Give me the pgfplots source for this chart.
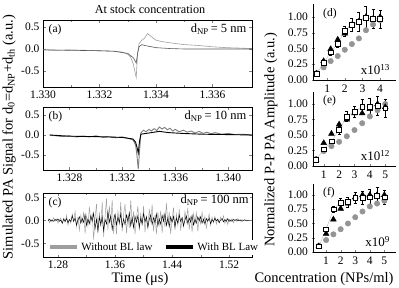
\documentclass[border=0pt]{standalone}
\usepackage{pgfplots}
\pgfplotsset{compat=1.18}
\usepackage{pgfplotstable}
\usepackage{fontspec}
\setmainfont{Liberation Serif}
\definecolor{lg}{gray}{0.62}
\definecolor{dk}{gray}{0.12}
\definecolor{cg}{gray}{0.58}

\pgfplotstableread{
x g d
1.266 0.04 -0.01
1.268 -0.05 0.03
1.270 0.02 -0.02
1.272 -0.02 0.01
1.274 0.06 -0.02
1.276 -0.01 0.02
1.278 0.03 0.00
1.280 -0.06 0.03
1.282 0.01 -0.02
1.284 0.05 0.01
1.286 -0.07 -0.06
1.288 0.05 0.03
1.290 -0.04 -0.02
1.292 0.11 0.04
1.294 -0.10 -0.05
1.296 0.02 0.02
1.298 -0.06 -0.02
1.300 0.14 0.10
1.302 -0.02 -0.02
1.304 0.20 0.05
1.306 -0.14 -0.10
1.308 0.07 0.01
1.310 -0.22 0.08
1.312 0.11 -0.06
1.314 -0.05 0.04
1.316 0.19 -0.04
1.318 -0.29 0.13
1.320 0.10 -0.11
1.322 -0.13 0.03
1.324 0.30 -0.07
1.326 -0.06 0.10
1.328 0.16 -0.01
1.330 -0.42 0.16
1.332 0.05 -0.18
1.334 0.36 0.03
1.336 -0.27 -0.23
1.338 0.18 0.07
1.340 -0.14 -0.09
1.342 0.41 0.08
1.344 -0.36 -0.22
1.346 0.09 0.02
1.348 0.48 -0.08
1.350 -0.22 0.20
1.352 0.32 -0.04
1.354 -0.05 0.10
1.356 0.45 -0.20
1.358 -0.30 0.02
1.360 0.14 0.14
1.362 -0.30 -0.10
1.364 0.22 0.07
1.366 -0.10 -0.05
1.368 0.40 0.15
1.370 -0.24 -0.14
1.372 0.12 0.03
1.374 0.36 -0.09
1.376 -0.28 0.12
1.378 0.08 -0.02
1.380 -0.16 0.17
1.382 0.44 -0.12
1.384 -0.08 0.06
1.386 0.20 -0.16
1.388 -0.30 0.09
1.390 0.04 -0.04
1.392 0.32 0.10
1.394 -0.22 -0.15
1.396 0.16 0.05
1.398 -0.12 -0.07
1.400 0.32 0.15
1.402 -0.26 -0.03
1.404 0.07 0.08
1.406 -0.17 -0.15
1.408 0.25 0.02
1.410 -0.04 0.12
1.412 0.35 -0.09
1.414 -0.24 0.06
1.416 0.12 -0.05
1.418 -0.30 0.14
1.420 0.19 -0.12
1.422 -0.09 0.03
1.424 0.21 -0.08
1.426 -0.28 0.11
1.428 0.11 -0.02
1.430 -0.14 0.15
1.432 0.38 -0.11
1.434 -0.07 0.05
1.436 0.18 -0.14
1.438 -0.30 0.08
1.440 0.04 -0.04
1.442 0.28 0.09
1.444 -0.21 -0.14
1.446 0.14 0.05
1.448 -0.11 -0.06
1.450 0.25 0.12
1.452 -0.22 -0.02
1.454 0.06 0.06
1.456 -0.14 -0.12
1.458 0.20 0.01
1.460 -0.03 0.10
1.462 0.28 -0.07
1.464 -0.20 0.05
1.466 0.10 -0.04
1.468 -0.26 0.11
1.470 0.15 -0.10
1.472 -0.07 0.02
1.474 0.17 -0.06
1.476 -0.24 0.08
1.478 0.08 -0.01
1.480 -0.07 0.08
1.482 0.18 -0.06
1.484 -0.04 0.03
1.486 0.09 -0.08
1.488 -0.17 0.04
1.490 0.02 -0.02
1.492 0.14 0.05
1.494 -0.11 -0.07
1.496 0.07 0.02
1.498 -0.05 -0.03
1.500 0.09 0.05
1.502 -0.08 -0.01
1.504 0.02 0.03
1.506 -0.05 -0.05
1.508 0.07 0.01
1.510 -0.01 0.04
1.512 0.10 -0.03
1.514 -0.07 0.02
1.516 0.03 -0.02
1.518 -0.09 0.04
1.520 0.03 -0.02
1.522 -0.02 0.01
1.524 0.04 -0.02
1.526 -0.05 0.02
1.528 0.02 0.00
1.530 -0.02 0.02
1.532 0.04 -0.01
1.534 -0.01 0.01
1.536 0.02 -0.01
1.538 -0.03 0.01
1.540 0.00 0.00
1.542 0.02 0.01
1.544 -0.01 -0.01
1.546 0.01 0.00
1.548 0.00 0.00
}\tableC

\pgfplotstableread{
x tri sq err circ
0.4 0.10 0.10 0.02 0.11
0.8 0.30 0.27 0.03 0.20
1.2 0.49 0.44 0.04 0.30
1.6 0.64 0.58 0.06 0.38
2.0 0.74 0.78 0.08 0.48
2.4 0.87 0.88 0.10 0.57
2.8 0.93 0.93 0.15 0.66
3.2 1.00 0.99 0.18 0.79
3.6 0.97 0.97 0.15 0.88
4.0 1.00 0.97 0.14 0.95
}\tableD

\pgfplotstableread{
x tri sq err circ
0.5 0.10 0.10 0.02 0.11
1.0 0.37 0.27 0.03 0.24
1.5 0.52 0.40 0.04 0.32
2.0 0.67 0.58 0.06 0.39
2.5 0.75 0.80 0.08 0.48
3.0 0.85 0.88 0.09 0.58
3.5 0.85 0.95 0.12 0.69
4.0 0.92 0.96 0.13 0.80
4.5 1.00 0.97 0.15 0.90
5.0 0.95 0.93 0.14 1.00
}\tableE

\pgfplotstableread{
x tri sq err circ
0.5 0.10 0.10 0.02 0.11
1.0 0.32 0.40 0.04 0.21
1.5 0.57 0.75 0.06 0.31
2.0 0.76 0.87 0.08 0.40
2.5 0.85 0.88 0.09 0.50
3.0 0.96 0.95 0.10 0.61
3.5 1.00 0.95 0.12 0.71
4.0 1.00 0.96 0.14 0.80
4.5 1.00 0.98 0.15 0.85
5.0 1.00 0.96 0.13 0.90
}\tableF

\pgfplotsset{
  every axis/.append style={
    scale only axis,
    tick label style={font=\fontsize{11.5}{12}\selectfont},
    /pgf/number format/assume math mode=true,
    tick align=inside,
    major tick length=3pt, minor tick length=1.8pt,
    line width=0.5pt,
  },
  leftp/.style={
    width=209pt,
    ytick={-0.5,0,0.5},
    yticklabel style={/pgf/number format/.cd, fixed, fixed zerofill, precision=1},
    minor x tick num=1,
    clip=true,
  },
  rightp/.style={
    width=83pt,
    ymin=0, ymax=1.2,
    axis x line=bottom, axis y line=left,
    axis line style={-},
    ytick={0,0.25,0.5,0.75,1},
    yticklabel style={/pgf/number format/.cd, fixed, fixed zerofill, precision=2},
    clip=false,
  },
  pcirc/.style={only marks, mark=*, mark size=2.7pt, color=cg},
  ptri/.style={only marks, mark=triangle*, mark size=3.3pt, color=black},
  psq/.style={color=gray!55, line width=0.4pt, mark=square*, mark size=2.4pt,
    mark options={fill=white, draw=black, solid, line width=0.5pt},
    error bars/.cd, y dir=both, y explicit,
    error bar style={black, line width=0.4pt},
    error mark options={rotate=90, mark size=1.5pt, black}},
}

\begin{document}
\begin{tikzpicture}
\path[use as bounding box] (0pt,0pt) rectangle (399pt,-288pt);

% ---------- panel (a)
\begin{axis}[leftp, at={(43pt,-87pt)}, anchor=south west, height=67pt,
  xmin=1.3300, xmax=1.3374, ymin=-0.864, ymax=0.659,
  xtick={1.330,1.332,1.334,1.336},
  xticklabel style={/pgf/number format/.cd, fixed, fixed zerofill, precision=3}]
\addplot[lg, line width=0.6pt] coordinates {
(1.3300,-0.02) (1.3305,-0.03) (1.3310,-0.02) (1.3315,-0.03) (1.3320,-0.04)
(1.3325,-0.05) (1.3328,-0.07) (1.3330,-0.12) (1.3331,-0.18) (1.3332,-0.35)
(1.3333,-0.65) (1.33335,-0.10) (1.3334,0.12) (1.3335,0.20) (1.3336,0.25) (1.3337,0.35)
(1.3338,0.30) (1.3340,0.20) (1.3342,0.17) (1.3345,0.14) (1.3350,0.10)
(1.3355,0.08) (1.3360,0.05) (1.3365,0.03) (1.3370,0.02) (1.3374,0.01)};
\addplot[dk!75, line width=0.6pt] coordinates {
(1.3300,-0.02) (1.3310,-0.03) (1.3320,-0.04) (1.3325,-0.05) (1.3330,-0.10)
(1.3332,-0.20) (1.3333,-0.32) (1.33335,-0.10) (1.3334,0.05) (1.3335,0.10)
(1.3336,0.08) (1.3340,0.03) (1.3345,0.01) (1.3350,0.00) (1.3374,0.00)};
\node[anchor=north west, font=\fontsize{11.5}{12}\selectfont] at (rel axis cs:0.01,0.99) {(a)};
\node[anchor=north east, font=\fontsize{12.5}{13}\selectfont] at (rel axis cs:0.99,1.0) {d\textsubscript{NP}\,= 5 nm};
\end{axis}

% ---------- panel (b)
\begin{axis}[leftp, at={(43pt,-170pt)}, anchor=south west, height=63pt,
  xmin=1.3260, xmax=1.3418, ymin=-0.875, ymax=0.70,
  xtick={1.328,1.332,1.336,1.340},
  xticklabel style={/pgf/number format/.cd, fixed, fixed zerofill, precision=3}]
\addplot[lg!80!black, line width=0.9pt] coordinates {
(1.3265,0.00) (1.3270,-0.02) (1.3275,-0.04) (1.3280,-0.02) (1.3285,-0.05)
(1.3290,-0.03) (1.3295,-0.05) (1.3300,-0.02) (1.3305,-0.06) (1.3310,-0.04)
(1.3315,-0.07) (1.3320,-0.05) (1.3325,-0.09) (1.3328,-0.12) (1.3330,-0.25)
(1.3331,-0.50) (1.3332,-0.85) (1.3333,-0.40) (1.3334,0.05) (1.3336,0.12)
(1.3338,0.08) (1.3340,0.14) (1.3342,0.10) (1.3344,0.16) (1.3346,0.11)
(1.3348,0.20) (1.3350,0.15) (1.3352,0.19) (1.3354,0.13) (1.3356,0.17)
(1.3358,0.10) (1.3360,0.14) (1.3363,0.08) (1.3366,0.12) (1.3369,0.07)
(1.3372,0.10) (1.3375,0.05) (1.3378,0.09) (1.3381,0.04) (1.3384,0.07)
(1.3387,0.03) (1.3390,0.06) (1.3395,0.02) (1.3400,0.04) (1.3405,0.01)
(1.3410,0.02) (1.3418,0.00)};
\addplot[black, line width=0.9pt] coordinates {
(1.3265,0.00) (1.3280,-0.03) (1.3300,-0.04) (1.3320,-0.06) (1.3328,-0.10)
(1.3330,-0.18) (1.3331,-0.30) (1.3332,-0.45) (1.3333,-0.15) (1.3334,0.02)
(1.3340,0.05) (1.3348,0.09) (1.3355,0.06) (1.3365,0.04) (1.3380,0.02)
(1.3400,0.01) (1.3418,0.00)};
\node[anchor=north west, font=\fontsize{11.5}{12}\selectfont] at (rel axis cs:0.01,0.99) {(b)};
\node[anchor=north east, font=\fontsize{12.5}{13}\selectfont] at (rel axis cs:0.99,1.0) {d\textsubscript{NP}\,= 10 nm};
\end{axis}

% ---------- panel (c)
\begin{axis}[leftp, at={(43pt,-257pt)}, anchor=south west, height=64pt,
  xmin=1.259, xmax=1.552, ymin=-0.80, ymax=0.60,
  xtick={1.28,1.36,1.44,1.52},
  xticklabel style={/pgf/number format/.cd, fixed, fixed zerofill, precision=2},
  legend style={at={(axis description cs:0.02,0.03)}, anchor=south west, draw=none, fill=white,
    font=\fontsize{11}{12}\selectfont, legend columns=2,
    /tikz/every even column/.append style={column sep=10pt},
    inner sep=1pt},
  legend image code/.code={\draw[#1] (0pt,0pt) -- (27pt,0pt);}]
\addplot[lg, line width=0.45pt, forget plot] table[x=x, y=g] {\tableC};
\addplot[black, line width=0.45pt, forget plot] table[x=x, y=d] {\tableC};
\addlegendimage{lg, line width=4pt}
\addlegendentry{Without BL law}
\addlegendimage{black, line width=4pt}
\addlegendentry{With BL Law}
\node[anchor=north west, font=\fontsize{11.5}{12}\selectfont] at (rel axis cs:0.01,0.99) {(c)};
\node[anchor=north east, font=\fontsize{12.5}{13}\selectfont, fill=white, inner sep=1pt] at (rel axis cs:0.99,0.99) {d\textsubscript{NP}\,= 100 nm};
\end{axis}

% ---------- panel (d)
\begin{axis}[rightp, at={(313pt,-80pt)}, anchor=south west, height=75.6pt,
  xmin=0.2, xmax=4.9, xtick={1,2,3,4}]
\addplot[pcirc] table[x=x, y=circ] {\tableD};
\addplot[ptri] table[x=x, y=tri] {\tableD};
\addplot[psq] table[x=x, y=sq, y error=err] {\tableD};
\node[anchor=north west, font=\fontsize{11.5}{12}\selectfont] at (rel axis cs:0.08,0.99) {(d)};
\node[anchor=south east, font=\fontsize{13}{14}\selectfont] at (rel axis cs:0.97,0.02) {x10\textsuperscript{13}};
\end{axis}

% ---------- panel (e)
\begin{axis}[rightp, at={(313pt,-166pt)}, anchor=south west, height=74.4pt,
  xmin=0.3, xmax=5.7, xtick={1,2,3,4,5}]
\addplot[pcirc] table[x=x, y=circ] {\tableE};
\addplot[ptri] table[x=x, y=tri] {\tableE};
\addplot[psq] table[x=x, y=sq, y error=err] {\tableE};
\node[anchor=north west, font=\fontsize{11.5}{12}\selectfont] at (rel axis cs:0.08,0.99) {(e)};
\node[anchor=south east, font=\fontsize{13}{14}\selectfont] at (rel axis cs:0.97,0.02) {x10\textsuperscript{12}};
\end{axis}

% ---------- panel (f)
\begin{axis}[rightp, at={(313pt,-252pt)}, anchor=south west, height=68.4pt,
  xmin=0.1, xmax=5.8, xtick={1,2,3,4,5}]
\addplot[pcirc] table[x=x, y=circ] {\tableF};
\addplot[ptri] table[x=x, y=tri] {\tableF};
\addplot[psq] table[x=x, y=sq, y error=err] {\tableF};
\node[anchor=north west, font=\fontsize{11.5}{12}\selectfont] at (rel axis cs:0.08,0.99) {(f)};
\node[anchor=south east, font=\fontsize{13}{14}\selectfont] at (rel axis cs:0.97,0.02) {x10\textsuperscript{9}};
\end{axis}

% ---------- labels
\node[font=\fontsize{12.2}{13}\selectfont] at (150pt,-9pt) {At stock concentration};
\node[font=\fontsize{14.5}{15}\selectfont] at (140pt,-279pt) {Time (μs)};
\node[font=\fontsize{14.5}{15}\selectfont] at (324pt,-279pt) {Concentration (NPs/ml)};
\node[font=\fontsize{14.5}{15}\selectfont, rotate=90] at (9pt,-137pt) {Simulated PA Signal for d\textsubscript{0}=d\textsubscript{NP}+d\textsubscript{th} (a.u.)};
\node[font=\fontsize{14.5}{15}\selectfont, rotate=90] at (271pt,-140pt) {Normalized P-P PA Amplitude (a.u.)};
\end{tikzpicture}
\end{document}
